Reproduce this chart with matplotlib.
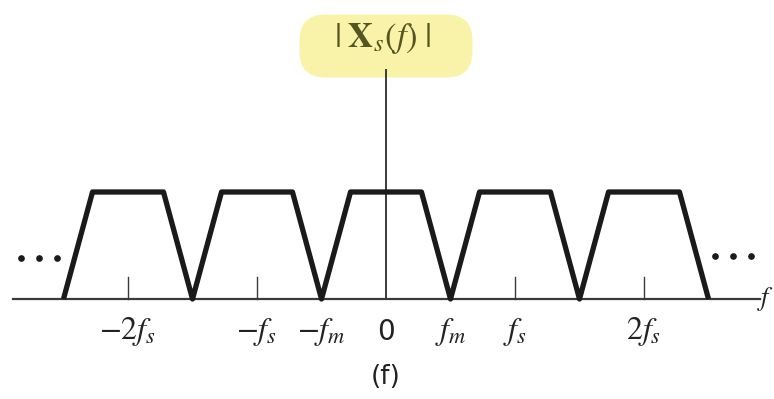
import numpy as np
import matplotlib
matplotlib.use("Agg")
import matplotlib.pyplot as plt
from matplotlib.patches import FancyBboxPatch

plt.rcParams['mathtext.fontset'] = 'stix'

# spectrum of the sampled signal, frequencies in units of fs
fs = 1.0
fm = 0.5
shifts = [-2, -1, 0, 1, 2]
# one baseband copy |X(f)|: trapezoid
base_f = [-fm, -0.55 * fm, 0.55 * fm, fm]
base_mag = [0, 1, 1, 0]

tick_pos = [-2 * fs, -fs, -fm, 0, fm, fs, 2 * fs]
tick_lbl = [r'$-2f_s$', r'$-f_s$', r'$-f_m$', '0', r'$f_m$', r'$f_s$', r'$2f_s$']
tick_marks = [-2 * fs, -fs, fs, 2 * fs]

fig = plt.figure(figsize=(7.74, 3.99), dpi=100)
ax = fig.add_axes([0, 0, 1, 1])
ax.set_xlim(-386 / 129, 388 / 129)
ax.set_ylim(-100 / 107, 299 / 107)
ax.axis('off')

ink = '#1a1a1a'
axc = '#3a3a3a'

# horizontal frequency axis and vertical magnitude axis
ax.plot([-373 / 129, 374 / 129], [0, 0], color=axc, lw=1.6, zorder=2)
ax.plot([0, 0], [0, 229 / 107], color=axc, lw=1.4, zorder=2)

for t in tick_marks:
    ax.plot([t, t], [0, 22 / 107], color=axc, lw=1.0, zorder=2)

# shifted copies
xs, ys = [], []
for k in shifts:
    xs += [k * fs + f for f in base_f]
    ys += base_mag
ax.plot(xs, ys, color=ink, lw=3.8, solid_joinstyle='round',
        solid_capstyle='butt', zorder=3)

# continuation dots
for side, yd in [(-1, 41 / 107), (1, 43 / 107)]:
    cx = side * 2.69
    ax.plot([cx - 0.14, cx, cx + 0.14], [yd] * 3, 'o', color=ink, ms=3.8, zorder=3)

# tick labels
for p, lab in zip(tick_pos, tick_lbl):
    fam = 'DejaVu Sans' if lab == '0' else None
    ax.text(p, -33 / 107, lab, ha='center', va='center',
            fontsize=20 if lab == '0' else 23, color='#222222', family=fam)

ax.text(0, -78 / 107, '(f)', ha='center', va='center', fontsize=19, color='#222222')
ax.text(371 / 129, 0, r'$f$', ha='left', va='center', fontsize=19, color='#222222')

# highlighted magnitude label
hl = FancyBboxPatch((-80 / 129, 228 / 107), 160 / 129, 50 / 107,
                    boxstyle='round,pad=0.05,rounding_size=0.2',
                    fc='#f7f29a', ec='none', alpha=0.85, zorder=1,
                    mutation_aspect=129 / 107)
ax.add_patch(hl)
ax.text(-3 / 129, 261 / 107, r'$|\;\mathbf{X}_s(f)\;|$', ha='center', va='center',
        fontsize=25, color='#555522', zorder=4)

fig.savefig('out.png', dpi=100)
